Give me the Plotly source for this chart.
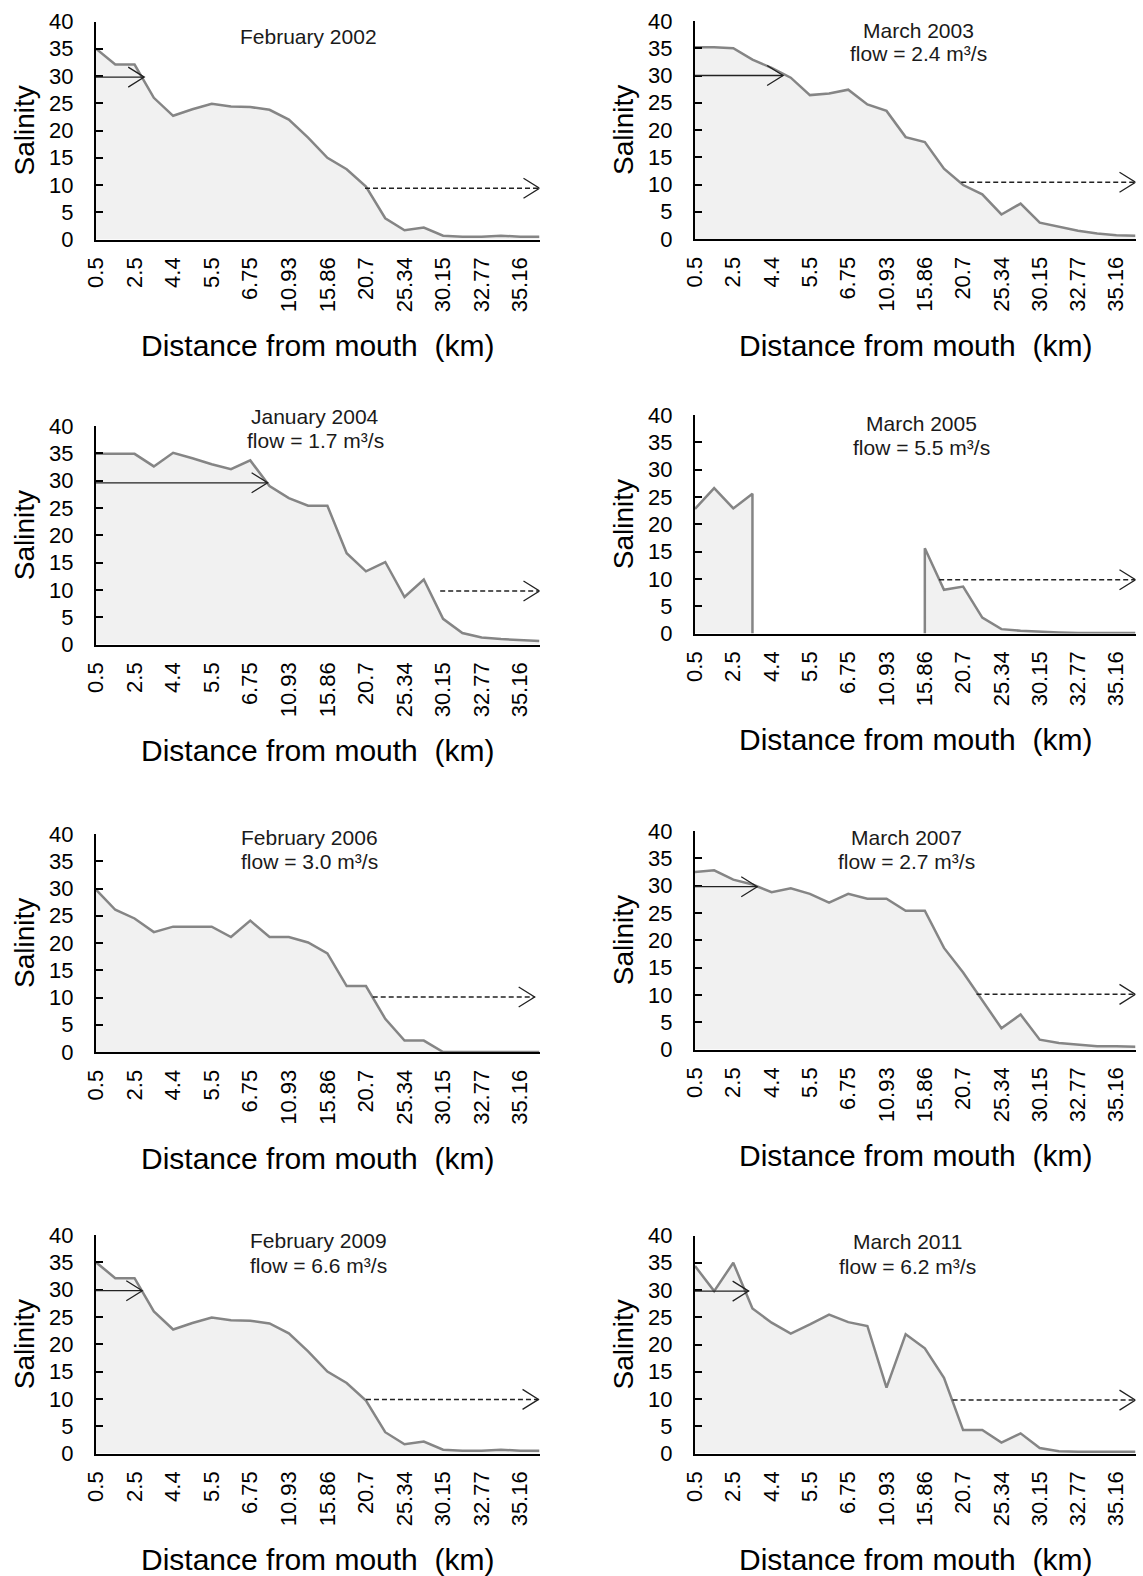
import plotly.graph_objects as go

W, H = 1143, 1576
FONT = "Liberation Sans, Arial, sans-serif"

# ---------------- data ----------------
distance_labels = ["0.5", "2.5", "4.4", "5.5", "6.75", "10.93", "15.86",
                   "20.7", "25.34", "30.15", "32.77", "35.16"]
n_stations = 24
label_step = 2

feb_2002 = [35.0, 32.1, 32.1, 26.0, 22.7, 23.9, 24.9, 24.4, 24.3, 23.8, 22.0, 18.7,
            15.0, 12.9, 9.7, 3.9, 1.7, 2.2, 0.7, 0.5, 0.5, 0.7, 0.5, 0.5]
mar_2003 = [35.2, 35.2, 35.0, 32.9, 31.4, 29.6, 26.4, 26.7, 27.4, 24.7, 23.5, 18.7,
            17.8, 12.9, 9.9, 8.2, 4.5, 6.5, 3.0, 2.3, 1.5, 1.0, 0.7, 0.6]
jan_2004 = [34.9, 34.9, 34.9, 32.6, 35.1, 34.1, 33.0, 32.1, 33.7, 29.0, 26.8, 25.4,
            25.4, 16.7, 13.4, 15.1, 8.7, 11.9, 4.7, 2.1, 1.3, 1.0, 0.85, 0.65]
mar_2005 = [22.8, 26.6, 22.9, 25.6, None, None, None, None, None, None, None, None,
            15.6, 8.0, 8.6, 2.9, 0.8, 0.5, 0.3, 0.2, 0.1, 0.1, 0.1, 0.1]
feb_2006 = [29.8, 26.1, 24.5, 22.0, 23.0, 23.0, 23.0, 21.1, 24.1, 21.1, 21.1, 20.1,
            18.1, 12.1, 12.1, 6.1, 2.1, 2.1, 0.0, 0.0, 0.0, 0.0, 0.0, 0.0]
mar_2007 = [32.5, 32.8, 31.1, 30.2, 28.8, 29.5, 28.5, 26.9, 28.5, 27.6, 27.6, 25.4,
            25.4, 18.6, 14.1, 9.1, 3.9, 6.4, 1.8, 1.2, 0.9, 0.6, 0.6, 0.5]
feb_2009 = [35.0, 32.1, 32.1, 26.0, 22.7, 23.9, 24.9, 24.4, 24.3, 23.8, 22.0, 18.7,
            15.0, 12.9, 9.7, 3.9, 1.7, 2.2, 0.7, 0.5, 0.5, 0.7, 0.5, 0.5]
mar_2011 = [34.4, 29.8, 35.0, 26.6, 24.0, 22.0, 23.7, 25.5, 24.1, 23.4, 12.1, 21.9,
            19.3, 13.9, 4.3, 4.3, 2.0, 3.7, 1.0, 0.4, 0.3, 0.3, 0.3, 0.3]

salinity_series = [feb_2002, mar_2003, jan_2004, mar_2005,
                   feb_2006, mar_2007, feb_2009, mar_2011]
panel_titles = ["February 2002", "March 2003", "January 2004", "March 2005",
                "February 2006", "March 2007", "February 2009", "March 2011"]
panel_flows = [None, "2.4", "1.7", "5.5", "3.0", "2.7", "6.6", "6.2"]

# arrows: salinity 30 reach (solid) and salinity 10 reach (dashed), in station units
solid_arrow_end = [2.5, 4.6, 8.9, None, None, 3.25, 2.4, 2.8]
solid_arrow_level = [29.8, 30.0, 29.6, None, None, 29.8, 29.8, 29.8]
dashed_arrow_start = [13.95, 13.9, 17.85, 12.75, 14.35, 14.7, 14.0, 13.45]
dashed_arrow_end = [23.0, 23.0, 23.0, 23.0, 22.75, 23.0, 22.95, 23.0]
dashed_arrow_level = [9.4, 10.4, 9.8, 9.85, 10.1, 10.1, 9.9, 9.8]

# ---------------- layout geometry (pixels) ----------------
col_px = [(96, 539.5), (695, 1135.5)]
row_px = [(21.5, 239.5), (21, 239), (426, 644.5), (415, 633.5),
          (834, 1052), (831, 1049.5), (1235, 1453.5), (1235.5, 1453.5)]
title_px = [(308, 36.5), (918, 30), (315, 417), (921, 423),
            (309, 837), (906, 837), (318, 1240), (907, 1241)]
flow_px = [None, (918, 54), (315, 440), (921, 448),
           (309, 861), (906, 861), (318, 1265), (907, 1266)]

LINE_COLOR = "#858585"
FILL_COLOR = "#f1f1f1"
ARROW_COLOR = "#222222"


def fx(px):
    return px / W


def fy(py):
    return 1 - py / H


fig = go.Figure()
annotations = []
shapes = []

stations = list(range(n_stations))
tickvals = stations[::label_step]

for k, series in enumerate(salinity_series):
    col = k % 2
    xa = "x" if k == 0 else f"x{k + 1}"
    ya = "y" if k == 0 else f"y{k + 1}"
    xname = "xaxis" if k == 0 else f"xaxis{k + 1}"
    yname = "yaxis" if k == 0 else f"yaxis{k + 1}"

    # split series into contiguous runs (gaps drop vertically to zero)
    runs = []
    cur = []
    for i, v in enumerate(series):
        if v is None:
            if cur:
                runs.append(cur)
                cur = []
        else:
            cur.append(i)
    if cur:
        runs.append(cur)

    for run in runs:
        s, e = run[0], run[-1]
        xs = ([s] if s > 0 else []) + run + ([e] if e < n_stations - 1 else [])
        ys = ([0] if s > 0 else []) + [series[i] for i in run] + ([0] if e < n_stations - 1 else [])
        fig.add_trace(go.Scatter(
            x=xs, y=ys, mode="lines", fill="tozeroy",
            fillcolor=FILL_COLOR, line=dict(color=LINE_COLOR, width=2.5),
            xaxis=xa, yaxis=ya, showlegend=False, hoverinfo="skip"))

    x0, x1 = col_px[col]
    top, bot = row_px[k]
    fig.layout[xname] = dict(
        domain=[fx(x0), fx(x1)], anchor=ya, range=[0, n_stations - 1],
        showline=True, linecolor="black", linewidth=2, ticks="",
        tickmode="array", tickvals=tickvals, ticktext=distance_labels,
        tickangle=-90, ticklabelstandoff=7, showgrid=False, zeroline=False,
        automargin=False,
        tickfont=dict(family=FONT, size=22, color="black"), fixedrange=True)
    fig.layout[yname] = dict(
        domain=[fy(bot), fy(top)], anchor=xa, range=[0, 40], dtick=5,
        showline=True, linecolor="black", linewidth=2, ticks="inside",
        ticklen=7, tickwidth=2, tickcolor="black", ticklabelstandoff=16,
        showgrid=False, zeroline=False, automargin=False,
        tickfont=dict(family=FONT, size=22, color="black"), fixedrange=True)

    # arrows
    if solid_arrow_end[k] is not None:
        lvl = solid_arrow_level[k]
        shapes.append(dict(type="line", xref=xa, yref=ya, x0=0, x1=solid_arrow_end[k],
                           y0=lvl, y1=lvl, line=dict(color=ARROW_COLOR, width=1.3)))
        shapes.append(dict(type="path", xref=xa, yref=ya, xsizemode="pixel", ysizemode="pixel",
                           xanchor=solid_arrow_end[k], yanchor=lvl,
                           path="M -16,10 L 0,0 L -16,-10",
                           line=dict(color=ARROW_COLOR, width=1.3)))
    lvl = dashed_arrow_level[k]
    shapes.append(dict(type="line", xref=xa, yref=ya, x0=dashed_arrow_start[k],
                       x1=dashed_arrow_end[k], y0=lvl, y1=lvl,
                       line=dict(color=ARROW_COLOR, width=1.5, dash="5px,3px")))
    shapes.append(dict(type="path", xref=xa, yref=ya, xsizemode="pixel", ysizemode="pixel",
                       xanchor=dashed_arrow_end[k], yanchor=lvl,
                       path="M -16,10 L 0,0 L -16,-10",
                       line=dict(color=ARROW_COLOR, width=1.3)))

    # panel title text
    tx, ty = title_px[k]
    annotations.append(dict(text=panel_titles[k], x=fx(tx), y=fy(ty), xref="paper", yref="paper",
                            showarrow=False, xanchor="center", yanchor="middle",
                            font=dict(family=FONT, size=21, color="#1a1a1a")))
    if panel_flows[k] is not None:
        ftx, fty = flow_px[k]
        annotations.append(dict(text=f"flow = {panel_flows[k]} m³/s", x=fx(ftx), y=fy(fty),
                                xref="paper", yref="paper", showarrow=False,
                                xanchor="center", yanchor="middle",
                                font=dict(family=FONT, size=21, color="#1a1a1a")))

    # axis titles
    annotations.append(dict(text="Distance from mouth\u00a0 (km)", x=fx((x0 + x1) / 2),
                            y=fy(bot + 106), xref="paper", yref="paper", showarrow=False,
                            xanchor="center", yanchor="middle",
                            font=dict(family=FONT, size=30, color="black")))
    annotations.append(dict(text="Salinity", x=fx(x0 - 72), y=fy((top + bot) / 2),
                            xref="paper", yref="paper", showarrow=False, textangle=-90,
                            xanchor="center", yanchor="middle",
                            font=dict(family=FONT, size=28, color="black")))

fig.update_layout(
    width=W, height=H, margin=dict(l=0, r=0, t=0, b=0, autoexpand=False),
    paper_bgcolor="white", plot_bgcolor="white",
    annotations=annotations, shapes=shapes, showlegend=False,
    font=dict(family=FONT))

fig.write_html("out.html")
